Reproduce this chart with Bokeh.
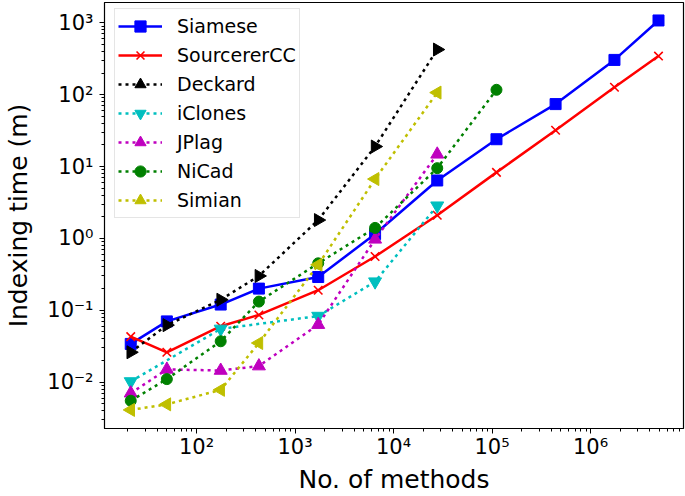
import math
from bokeh.plotting import figure
from bokeh.models import FixedTicker, CustomJSTickFormatter
from bokeh.embed import file_html
from bokeh.resources import INLINE

# ---- data ----
siamese_x = [21.5, 50, 176, 430, 1720, 6500, 27800, 111000, 442000, 1750000, 4900000]
siamese_y = [0.034, 0.07, 0.12, 0.2, 0.29, 1.15, 6.4, 24, 74, 305, 1080]

sourcerer_x = [21.5, 50, 176, 430, 1720, 6500, 27800, 111000, 442000, 1750000, 4900000]
sourcerer_y = [0.043, 0.026, 0.06, 0.086, 0.19, 0.56, 2.1, 8.3, 32, 127, 345]

deckard_x = [21.5, 50, 176, 430, 1720, 6500, 27800]
deckard_y = [0.026, 0.062, 0.14, 0.3, 1.8, 19, 425]

iclones_x = [21.5, 176, 1720, 6500, 27800]
iclones_y = [0.0102, 0.055, 0.083, 0.25, 2.85]

jplag_x = [21.5, 50, 176, 430, 1720, 6500, 27800]
jplag_y = [0.007, 0.015, 0.0145, 0.0167, 0.063, 0.97, 14.8]

nicad_x = [21.5, 50, 176, 430, 1720, 6500, 27800, 111000]
nicad_y = [0.0055, 0.011, 0.037, 0.132, 0.45, 1.4, 9.5, 117]

simian_x = [21.5, 50, 176, 430, 1720, 6500, 27800]
simian_y = [0.0041, 0.0049, 0.0078, 0.035, 0.43, 6.7, 107]

x_major = [1e2, 1e3, 1e4, 1e5, 1e6]
y_major = [1e-2, 1e-1, 1e0, 1e1, 1e2, 1e3]

FONT = "DejaVu Sans"

p = figure(x_axis_type="log", y_axis_type="log",
           x_range=(11.64, 8.79e6), y_range=(0.00226, 1920),
           width=685, height=496,
           min_border_left=104, min_border_right=2, min_border_top=2, min_border_bottom=64,
           output_backend="svg", toolbar_location=None)

p.xgrid.visible = False
p.ygrid.visible = False
p.outline_line_color = "black"
p.outline_line_width = 1.2
p.outline_line_alpha = 1.0

def minor_for(lo_exp, hi_exp):
    out = []
    for e in range(lo_exp, hi_exp + 1):
        for m in range(2, 10):
            out.append(m * 10.0 ** e)
    return out

p.xaxis.ticker = FixedTicker(ticks=x_major, minor_ticks=minor_for(1, 6))
p.yaxis.ticker = FixedTicker(ticks=y_major, minor_ticks=minor_for(-3, 3))

fmt_code = """
const sup = {"-":"\u207b","0":"\u2070","1":"\u00b9","2":"\u00b2","3":"\u00b3","4":"\u2074","5":"\u2075","6":"\u2076","7":"\u2077","8":"\u2078","9":"\u2079"};
const e = Math.round(Math.log10(tick));
return "10" + String(e).split("").map(c => sup[c]).join("");
"""
for ax in (p.xaxis, p.yaxis):
    ax.formatter = CustomJSTickFormatter(code=fmt_code)
    ax.major_label_text_font = FONT
    ax.major_label_text_font_size = "21px"
    ax.major_label_text_color = "black"
    ax.axis_label_text_font = FONT
    ax.axis_label_text_font_size = "25px"
    ax.axis_label_text_font_style = "normal"
    ax.axis_label_text_color = "black"
    ax.axis_line_color = "black"
    ax.major_tick_line_color = "black"
    ax.minor_tick_line_color = "black"
    ax.major_tick_in = 0
    ax.major_tick_out = 5
    ax.minor_tick_in = 0
    ax.minor_tick_out = 3

p.xaxis.axis_label = "No. of methods"
p.yaxis.axis_label = "Indexing time (m)"
p.xaxis.major_label_standoff = 1
p.xaxis.axis_label_standoff = 3
p.yaxis.major_label_standoff = 6
p.yaxis.axis_label_standoff = 11

LW = 2.5
DOT = "3 4"

def series(xs, ys, color, marker, label, dash="solid", size=11, angle=0.0, fill=True, mlw=1.0):
    p.line(xs, ys, line_color=color, line_width=LW, line_dash=dash, legend_label=label)
    p.scatter(xs, ys, marker=marker, size=size, angle=angle,
              fill_color=color if fill else None, line_color=color,
              line_width=mlw, legend_label=label)

series(siamese_x, siamese_y, "#0000ff", "square", "Siamese", size=11)
series(sourcerer_x, sourcerer_y, "#ff0000", "x", "SourcererCC", size=12, fill=False, mlw=1.6)
series(deckard_x, deckard_y, "#000000", "triangle", "Deckard", dash=DOT, size=13, angle=-math.pi / 2)
series(iclones_x, iclones_y, "#00bfbf", "inverted_triangle", "iClones", dash=DOT, size=13)
series(jplag_x, jplag_y, "#bf00bf", "triangle", "JPlag", dash=DOT, size=13)
series(nicad_x, nicad_y, "#008000", "circle", "NiCad", dash=DOT, size=11)
series(simian_x, simian_y, "#bfbf00", "triangle", "Simian", dash=DOT, size=13, angle=math.pi / 2)

lg = p.legend[0]
lg.location = (10, 210)
lg.margin = 0
lg.padding = 3
lg.spacing = 1
lg.glyph_width = 44
lg.glyph_height = 28
lg.label_height = 28
lg.label_standoff = 15
lg.label_text_font = FONT
lg.label_text_font_size = "19px"
lg.label_text_color = "black"
lg.border_line_color = "#cccccc"
lg.border_line_width = 1
lg.background_fill_color = "white"
lg.background_fill_alpha = 0.8

open("out.html", "w").write(file_html(p, INLINE))
